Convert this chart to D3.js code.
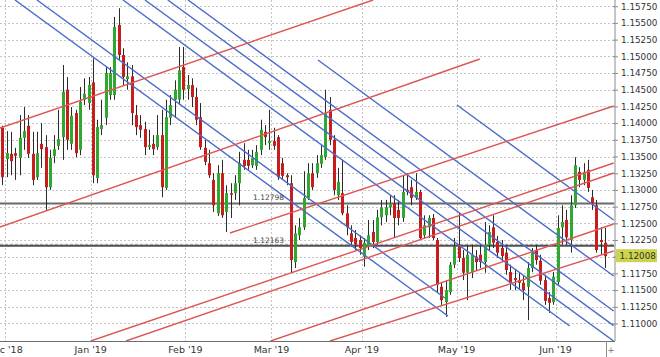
<!DOCTYPE html>
<html>
<head>
<meta charset="utf-8">
<script src="https://cdn.jsdelivr.net/npm/d3@7"></script>
<style>
  html, body { margin: 0; padding: 0; background: #fff; }
  svg { display: block; font-family: "DejaVu Sans", Verdana, sans-serif; }
</style>
</head>
<body>
<svg id="chart" width="660" height="357"></svg>
<script>
// EUR/USD daily candles, 30 Nov 2018 – 18 Jun 2019 (one entry per trading day)
const opens = [
  1.1393,1.1346,1.1354,1.1355,1.1348,1.1378,1.1396,1.1354,1.1319,1.1369,
  1.1364,1.1304,1.1351,1.1366,1.1379,1.1450,1.1369,1.1415,1.1360,1.1435,
  1.1430,1.1461,1.1318,1.1391,1.1408,1.1442,1.1442,1.1547,1.1502,1.1466,
  1.1470,1.1412,1.1397,1.1391,1.1364,1.1369,1.1364,1.1382,1.1303,1.1408,
  1.1435,1.1435,1.1484,1.1451,1.1457,1.1439,1.1409,1.1363,1.1340,1.1315,
  1.1265,1.1325,1.1267,1.1295,1.1295,1.1310,1.1345,1.1345,1.1337,1.1336,
  1.1360,1.1387,1.1370,1.1373,1.1379,1.1340,1.1322,1.1310,1.1192,1.1232,
  1.1244,1.1288,1.1325,1.1325,1.1339,1.1349,1.1420,1.1375,1.1292,1.1295,
  1.1265,1.1235,1.1228,1.1225,1.1200,1.1215,1.1237,1.1222,1.1259,1.1262,
  1.1274,1.1280,1.1270,1.1258,1.1300,1.1304,1.1288,1.1297,1.1232,1.1244,
  1.1258,1.1225,1.1155,1.1132,1.1147,1.1188,1.1218,1.1198,1.1176,1.1177,
  1.1200,1.1203,1.1192,1.1218,1.1244,1.1222,1.1213,1.1206,1.1177,1.1168,
  1.1165,1.1161,1.1155,1.1183,1.1210,1.1194,1.1165,1.1138,1.1132,1.1162,
  1.1244,1.1255,1.1225,1.1277,1.1327,1.1315,1.1330,1.1289,1.1277,1.1225,1.1221
];
const highs = [
  1.1396,1.1388,1.1387,1.1363,1.1412,1.1424,1.1412,1.1387,1.1387,1.1400,
  1.1382,1.1360,1.1382,1.1420,1.1487,1.1469,1.1424,1.1420,1.1454,1.1467,
  1.1469,1.1497,1.1405,1.1435,1.1484,1.1484,1.1559,1.1572,1.1512,1.1491,
  1.1487,1.1427,1.1412,1.1402,1.1390,1.1382,1.1412,1.1420,1.1435,1.1442,
  1.1464,1.1514,1.1514,1.1472,1.1467,1.1453,1.1430,1.1375,1.1360,1.1325,
  1.1337,1.1345,1.1307,1.1310,1.1322,1.1357,1.1370,1.1360,1.1360,1.1367,
  1.1405,1.1397,1.1420,1.1393,1.1382,1.1348,1.1325,1.1322,1.1247,1.1258,
  1.1328,1.1340,1.1340,1.1352,1.1367,1.1450,1.1439,1.1382,1.1333,1.1345,
  1.1277,1.1247,1.1240,1.1232,1.1228,1.1255,1.1255,1.1270,1.1285,1.1285,
  1.1292,1.1292,1.1285,1.1322,1.1325,1.1315,1.1325,1.1300,1.1262,1.1262,
  1.1264,1.1228,1.1162,1.1165,1.1192,1.1228,1.1265,1.1210,1.1218,1.1218,
  1.1210,1.1218,1.1252,1.1247,1.1262,1.1231,1.1225,1.1218,1.1188,1.1180,
  1.1176,1.1171,1.1192,1.1213,1.1218,1.1203,1.1173,1.1147,1.1177,1.1262,
  1.1277,1.1270,1.1292,1.1349,1.1334,1.1340,1.1345,1.1300,1.1285,1.1244,1.1243
];
const lows = [
  1.1307,1.1319,1.1322,1.1315,1.1322,1.1360,1.1348,1.1307,1.1315,1.1333,
  1.1270,1.1300,1.1340,1.1360,1.1345,1.1360,1.1360,1.1349,1.1352,1.1427,
  1.1420,1.1310,1.1310,1.1382,1.1397,1.1435,1.1435,1.1494,1.1457,1.1450,
  1.1397,1.1382,1.1378,1.1352,1.1360,1.1352,1.1360,1.1289,1.1300,1.1397,
  1.1408,1.1427,1.1435,1.1435,1.1424,1.1397,1.1360,1.1337,1.1318,1.1267,
  1.1261,1.1258,1.1237,1.1258,1.1285,1.1277,1.1330,1.1330,1.1333,1.1330,
  1.1352,1.1367,1.1360,1.1360,1.1315,1.1315,1.1307,1.1176,1.1183,1.1225,
  1.1240,1.1285,1.1300,1.1318,1.1333,1.1345,1.1367,1.1292,1.1285,1.1262,
  1.1232,1.1218,1.1210,1.1203,1.1185,1.1210,1.1213,1.1218,1.1247,1.1252,
  1.1262,1.1229,1.1247,1.1252,1.1292,1.1277,1.1285,1.1225,1.1228,1.1228,
  1.1225,1.1146,1.1128,1.1110,1.1143,1.1183,1.1192,1.1165,1.1135,1.1168,
  1.1180,1.1183,1.1176,1.1210,1.1213,1.1198,1.1192,1.1173,1.1150,1.1150,
  1.1150,1.1135,1.1105,1.1177,1.1188,1.1158,1.1128,1.1116,1.1128,1.1158,
  1.1218,1.1218,1.1206,1.1273,1.1304,1.1307,1.1297,1.1270,1.1206,1.1203,1.1183
];
const closes = [
  1.1319,1.1355,1.1343,1.1351,1.1378,1.1388,1.1354,1.1315,1.1355,1.1361,
  1.1304,1.1348,1.1361,1.1376,1.1447,1.1375,1.1411,1.1355,1.1432,1.1444,
  1.1457,1.1322,1.1394,1.1397,1.1475,1.1475,1.1544,1.1502,1.1469,1.1470,
  1.1415,1.1394,1.1390,1.1364,1.1367,1.1361,1.1382,1.1304,1.1409,1.1427,
  1.1450,1.1479,1.1450,1.1457,1.1439,1.1405,1.1364,1.1342,1.1322,1.1277,
  1.1325,1.1262,1.1295,1.1294,1.1310,1.1340,1.1336,1.1336,1.1348,1.1357,
  1.1390,1.1379,1.1373,1.1366,1.1319,1.1321,1.1319,1.1195,1.1235,1.1244,
  1.1288,1.1325,1.1304,1.1340,1.1352,1.1415,1.1375,1.1300,1.1312,1.1265,
  1.1244,1.1222,1.1218,1.1213,1.1221,1.1232,1.1222,1.1259,1.1274,1.1274,
  1.1280,1.1258,1.1258,1.1297,1.1297,1.1288,1.1297,1.1228,1.1247,1.1258,
  1.1228,1.1158,1.1135,1.1150,1.1188,1.1215,1.1198,1.1176,1.1203,1.1203,
  1.1192,1.1192,1.1218,1.1237,1.1221,1.1206,1.1201,1.1180,1.1161,1.1165,
  1.1161,1.1150,1.1183,1.1206,1.1195,1.1164,1.1134,1.1131,1.1170,1.1243,
  1.1252,1.1229,1.1277,1.1337,1.1315,1.1327,1.1303,1.1280,1.1210,1.1222,1.12008
];

// calendar: first session and market holidays (weekends are skipped too)
const firstSession = "2018-11-30";
const holidays = ["2018-12-25", "2019-01-01"];

// price axis ticks
const yTicks = [1.11000,1.11250,1.11500,1.11750,1.12000,1.12250,1.12500,1.12750,
                1.13000,1.13250,1.13500,1.13750,1.14000,1.14250,1.14500,1.14750,
                1.15000,1.15250,1.15500,1.15750];

// horizontal support / resistance levels and last traded price
const levels = [1.12798, 1.12163];
const lastPrice = 1.12008;

// trend channels: [session index start, price start, session index end, price end]
const blueLines = [
  [2.90, 1.15843, 103.5, 1.11112],
  [8.01, 1.15843, 102.8, 1.11382],
  [28.0, 1.15843, 131.8, 1.10963],
  [33.1, 1.15843, 142.0, 1.10738],
  [38.4, 1.15843, 142.0, 1.10969],
  [43.1, 1.15843, 142.0, 1.11187],
  [73.3, 1.14945, 142.0, 1.11711],
  [105.6, 1.14271, 142.0, 1.12549]
];
const redLines = [
  [-0.58, 1.13927, 86.1, 1.15843],
  [-0.58, 1.12445, 110.9, 1.14960],
  [52.85, 1.12355, 142.0, 1.14256],
  [20.5, 1.10738, 142.0, 1.13403],
  [28.7, 1.10738, 142.0, 1.13253],
  [62.3, 1.10738, 142.0, 1.12490],
  [76.1, 1.10738, 142.0, 1.12085]
];

// ---- build the session calendar ----
const fmtDay = d3.utcFormat("%Y-%m-%d");
const sessions = [];
for (let d = d3.utcParse("%Y-%m-%d")(firstSession); sessions.length < closes.length; d = d3.utcDay.offset(d, 1)) {
  const wd = d.getUTCDay();
  if (wd !== 0 && wd !== 6 && !holidays.includes(fmtDay(d))) sessions.push(d);
}
const candles = sessions.map((date, i) => ({
  i, date, open: opens[i], high: highs[i], low: lows[i], close: closes[i]
}));
const monthStarts = candles.filter((c, i) => i > 0 && c.date.getUTCMonth() !== sessions[i - 1].getUTCMonth());

// ---- layout ----
const plotW = 614.5, plotH = 341;
const svg = d3.select("#chart");

const x = d3.scaleLinear().domain([-0.58, 142.2]).range([0, plotW]);
const y = d3.scaleLinear().domain([1.10738, 1.15843]).range([plotH, 0]);

svg.append("defs").append("clipPath").attr("id", "plotClip")
  .append("rect").attr("x", 0).attr("y", 0).attr("width", plotW).attr("height", plotH);

const plot = svg.append("g").attr("clip-path", "url(#plotClip)");

// dotted grid
plot.append("g").selectAll("line").data(yTicks).join("line")
  .attr("x1", 0).attr("x2", plotW)
  .attr("y1", d => Math.round(y(d)) + 0.5).attr("y2", d => Math.round(y(d)) + 0.5)
  .attr("stroke", "#c4c4c4").attr("stroke-dasharray", "2,2");
plot.append("g").selectAll("line").data(monthStarts).join("line")
  .attr("x1", d => Math.round(x(d.i - 0.5)) + 0.5).attr("x2", d => Math.round(x(d.i - 0.5)) + 0.5)
  .attr("y1", 0).attr("y2", plotH)
  .attr("stroke", "#c4c4c4").attr("stroke-dasharray", "2,2");

// horizontal levels
plot.append("line")
  .attr("x1", 0).attr("x2", plotW).attr("y1", y(levels[0])).attr("y2", y(levels[0]))
  .attr("stroke", "#6b6b6b").attr("stroke-width", 2);
plot.append("line")
  .attr("x1", 0).attr("x2", plotW).attr("y1", y(levels[1])).attr("y2", y(levels[1]))
  .attr("stroke", "#505050").attr("stroke-width", 2);
plot.append("line")
  .attr("x1", 0).attr("x2", plotW).attr("y1", y(levels[1]) - 1.5).attr("y2", y(levels[1]) - 1.5)
  .attr("stroke", "#9a9a9a").attr("stroke-width", 1).attr("stroke-dasharray", "3,2");

// candles
const bodyW = 3;
const cg = plot.append("g");
cg.selectAll("line").data(candles).join("line")
  .attr("x1", d => Math.round(x(d.i)) + 0.5).attr("x2", d => Math.round(x(d.i)) + 0.5)
  .attr("y1", d => y(d.high)).attr("y2", d => y(d.low))
  .attr("stroke", "#2b2b2b").attr("stroke-width", 1);
cg.selectAll("rect").data(candles).join("rect")
  .attr("x", d => Math.round(x(d.i)) - 1)
  .attr("width", bodyW)
  .attr("y", d => y(Math.max(d.open, d.close)))
  .attr("height", d => Math.max(1.5, Math.abs(y(d.open) - y(d.close))))
  .attr("fill", d => d.close >= d.open ? "#2fa82f" : "#c81d1d");

// trend lines
const tl = plot.append("g").attr("fill", "none").attr("stroke-width", 1.4);
tl.selectAll(".blue").data(blueLines).join("line").attr("class", "blue")
  .attr("x1", d => x(d[0])).attr("y1", d => y(d[1]))
  .attr("x2", d => x(d[2])).attr("y2", d => y(d[3]))
  .attr("stroke", "#4a6bcb");
tl.selectAll(".red").data(redLines).join("line").attr("class", "red")
  .attr("x1", d => x(d[0])).attr("y1", d => y(d[1]))
  .attr("x2", d => x(d[2])).attr("y2", d => y(d[3]))
  .attr("stroke", "#dd5656");

// level labels
const fmt5 = d3.format(".5f");
svg.selectAll(".lvl").data(levels).join("text").attr("class", "lvl")
  .attr("x", 253).attr("y", d => y(d) - 3)
  .attr("font-size", 7.5).attr("fill", "#3f3f3f")
  .text(d => fmt5(d));

// axes frame
svg.append("line").attr("x1", plotW + 0.5).attr("x2", plotW + 0.5).attr("y1", 0).attr("y2", plotH)
  .attr("stroke", "#8c8c8c");
svg.append("line").attr("x1", 0).attr("x2", plotW + 0.5).attr("y1", plotH + 0.5).attr("y2", plotH + 0.5)
  .attr("stroke", "#6e6e6e");

// price axis
const yAxis = svg.append("g").attr("transform", `translate(${plotW + 0.5},0)`)
  .call(d3.axisRight(y).tickValues(yTicks).tickFormat(fmt5).tickSize(3).tickPadding(3));
yAxis.select(".domain").remove();
yAxis.selectAll(".tick line").attr("stroke", "#8c8c8c").attr("x1", -2);
yAxis.selectAll(".tick text").attr("font-size", 8.8).attr("fill", "#333")
  .attr("font-family", "DejaVu Sans, Verdana, sans-serif");

// last price tag
const tagY = y(lastPrice);
svg.append("rect").attr("x", 616).attr("y", tagY - 7).attr("width", 41).attr("height", 13)
  .attr("fill", "#cdd34a");
svg.append("text").attr("x", 619.5).attr("y", tagY).attr("dy", "0.35em")
  .attr("font-size", 8.8).attr("fill", "#333").text(fmt5(lastPrice));

// time axis
const fmtMonth = d3.utcFormat("%b '%y");
svg.append("g").selectAll("text").data(monthStarts).join("text")
  .attr("x", d => x(d.i - 0.5)).attr("y", 353)
  .attr("text-anchor", "middle").attr("font-size", 9.5).attr("fill", "#333")
  .text(d => fmtMonth(d.date));

// corner controls
svg.append("line").attr("x1", 606.5).attr("x2", 606.5).attr("y1", plotH).attr("y2", 357)
  .attr("stroke", "#8c8c8c");
svg.append("text").attr("x", 611).attr("y", 353).attr("text-anchor", "middle")
  .attr("font-size", 9).attr("fill", "#777").text("+");
</script>
</body>
</html>
